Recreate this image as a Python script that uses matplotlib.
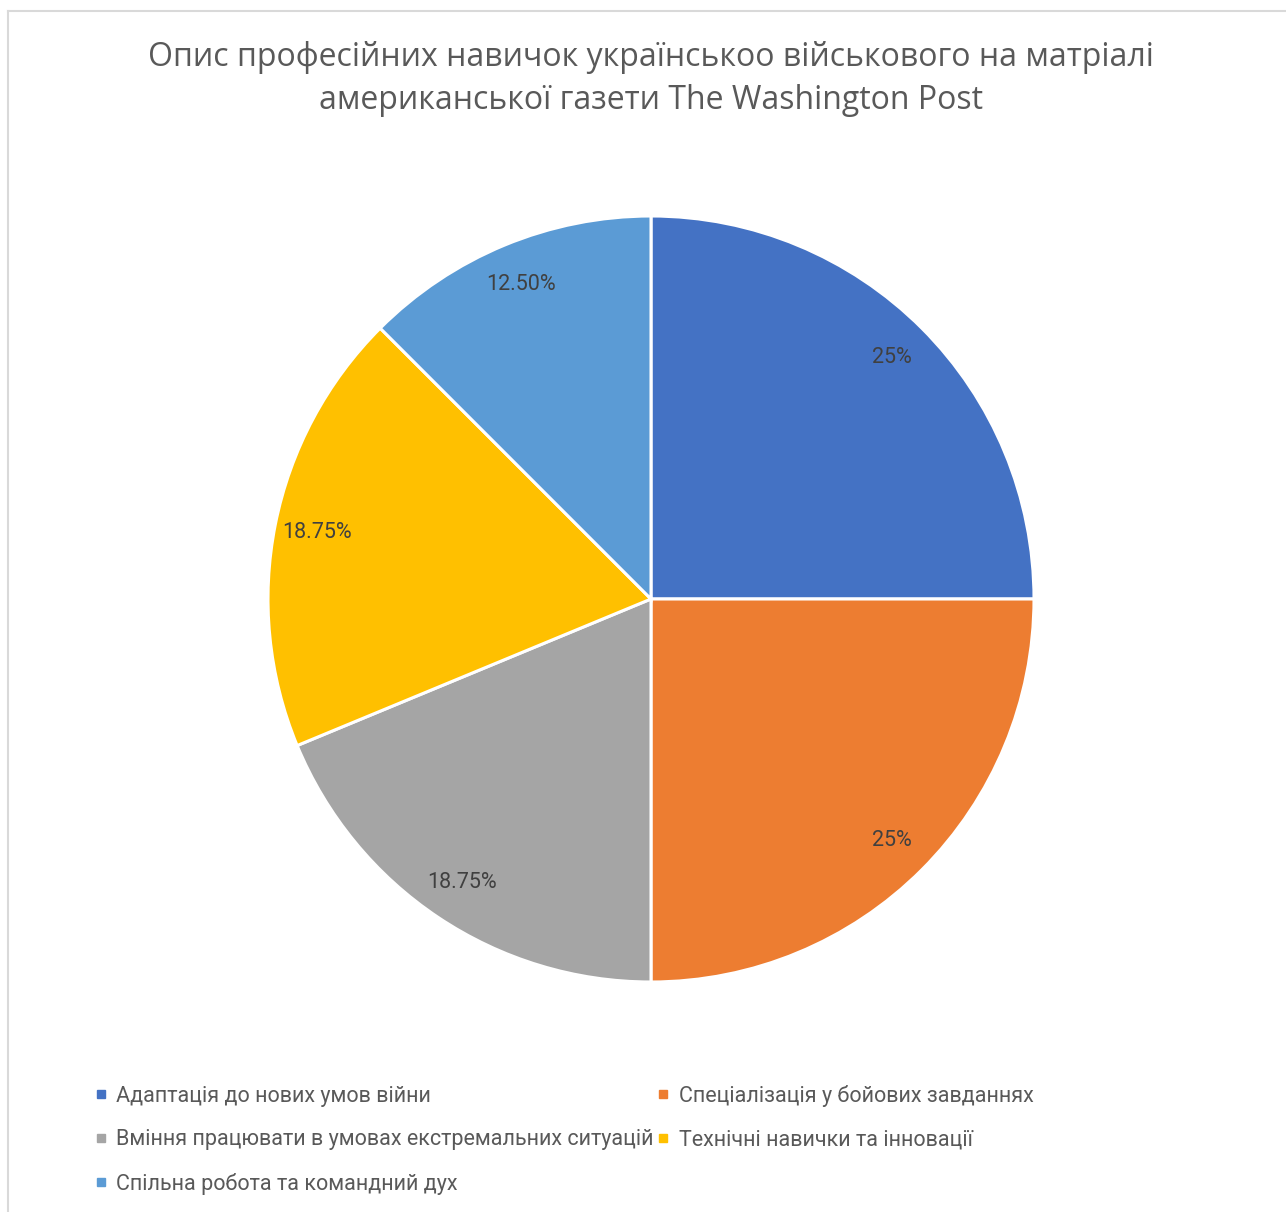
import matplotlib.pyplot as plt
from matplotlib.lines import Line2D

# Дані діаграми
categories = [
    'Адаптація до нових умов війни',
    'Спеціалізація у бойових завданнях',
    'Вміння працювати в умовах екстремальних ситуацій',
    'Технічні навички та інновації',
    'Спільна робота та командний дух',
]
values = [25, 25, 18.75, 18.75, 12.5]
value_labels = ['25%', '25%', '18.75%', '18.75%', '12.50%']
colors = ['#4472C4', '#ED7D31', '#A5A5A5', '#FFC000', '#5B9BD5']
title = 'Опис професійних навичок українськоо військового на матріалі\nамериканської газети The Washington Post'

W, H = 1286, 1212
fig = plt.figure(figsize=(W / 100, H / 100), dpi=100)

# Рамка області діаграми (видно лише верхній та лівий край)
fig.add_artist(Line2D([8 / W, 1], [1 - 11 / H, 1 - 11 / H], color='#D9D9D9', lw=1.5))
fig.add_artist(Line2D([8 / W, 8 / W], [0, 1 - 11 / H], color='#D9D9D9', lw=1.5))

fig.text(651 / W, 1 - 79 / H, title, ha='center', va='center', fontsize=23,
         color='#595959', family=['Open Sans', 'DejaVu Sans'], linespacing=1.42)

cx, cy, r = 651, 599, 383
ax = fig.add_axes([(cx - r) / W, (H - cy - r) / H, 2 * r / W, 2 * r / H])
wedges, texts = ax.pie(values, colors=colors, startangle=90, counterclock=False,
                       labels=value_labels, labeldistance=0.89,
                       wedgeprops=dict(edgecolor='white', linewidth=2.2))
for t in texts:
    t.set_ha('center')
    t.set_va('center')
    t.set_fontsize(15.5)
    t.set_color('#404040')
    t.set_family(['Roboto', 'DejaVu Sans'])
ax.set_xlim(-1, 1)
ax.set_ylim(-1, 1)
ax.axis('off')

# Легенда: порядок по рядках (ncol=2 заповнює по стовпцях)
order = [0, 2, 4, 1, 3]
handles = [Line2D([], [], marker='s', linestyle='', color=colors[i], markersize=6) for i in order]
leg = fig.legend(handles, [categories[i] for i in order], ncol=2, loc='upper left',
                 bbox_to_anchor=(84 / W, 1 - 1074 / H), frameon=False,
                 prop={'family': ['Roboto', 'DejaVu Sans'], 'size': 15.5},
                 handlelength=0.6, handletextpad=0.4, columnspacing=0.15,
                 labelspacing=1.05, borderpad=0)
for t in leg.get_texts():
    t.set_color('#595959')

fig.savefig('out.png', dpi=100, facecolor='white')
